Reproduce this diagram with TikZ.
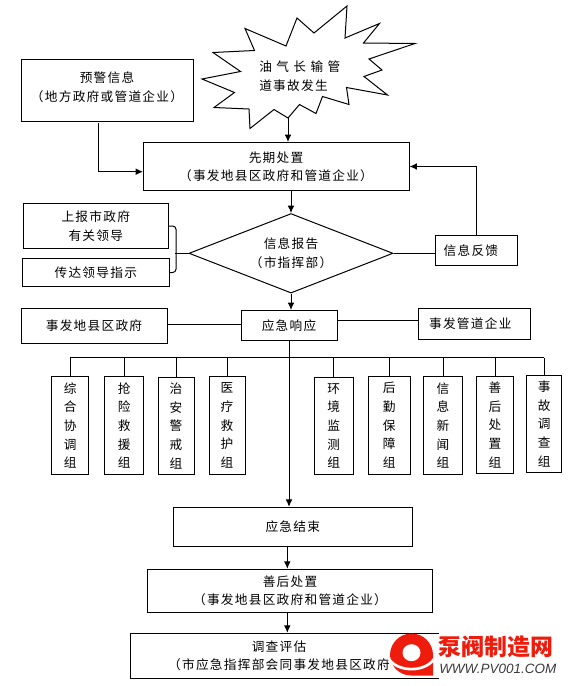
\documentclass[tikz,border=0pt]{standalone}
\usepackage{fontspec}
\setmainfont{Noto Sans CJK SC}[LetterSpace=10]
\newfontfamily\markfont{Noto Sans CJK SC}
\newfontfamily\webfont{Liberation Sans}
\usetikzlibrary{arrows.meta,calc,shapes.geometric}
\definecolor{markred}{HTML}{EE1C0C}
\definecolor{markgray}{HTML}{3A3A3A}
\tikzset{
  sized/.style 2 args={minimum width=#1*0.75pt, minimum height=#2*0.75pt, inner sep=0pt},
  planbox/.style={draw=black, line width=0.75pt, fill=white, align=center, font=\fontsize{9.5}{13.8}\selectfont},
  groupbox/.style={planbox, font=\fontsize{9.5}{14}\selectfont},
  decision/.style={planbox, diamond, aspect=2.5},
  flow/.style={black, -{Latex[length=5.5pt,width=5pt]}, line width=0.75pt},
  link/.style={black, line width=0.75pt},
  marktext/.style={inner sep=0pt, anchor=west}
}
\begin{document}
\begin{tikzpicture}[x=0.75pt, y=-0.75pt]
  \useasboundingbox (0,0) rectangle (573,686);
  \draw[link, fill=white] (245,28.5) -- (286,46) -- (297,18) -- (314,33) -- (347,6) -- (345,38) -- (379.5,23.5) -- (363.5,43) -- (415,43.5) -- (369,59) -- (382,70) -- (364,76.5) -- (387.5,95) -- (346.5,87.5) -- (349,104.5) -- (322.5,96.5) -- (316,113.5) -- (299.5,104.5) -- (288,118) -- (274,109.5) -- (250,128.5) -- (249,109) -- (214,107.5) -- (234.5,92.5) -- (202,79) -- (240.5,71.5) -- (213,52.5) -- (254.5,50.5) -- cycle;
  \coordinate (starout) at (288,118);
  \node[align=left, anchor=west, inner sep=0pt, font=\fontsize{9.5}{13.8}\selectfont] (accident) at (259,76)
    {\addfontfeature{LetterSpace=35}油气长输管\\道事故发生};
  \node[planbox, sized={172}{62}] (warn) at (107,90.5) {预警信息\\（地方政府或管道企业）\\[-8pt]\mbox{}};
  \node[planbox, sized={266}{48}] (first) at (276,166.5) {先期处置\\（事发地县区政府和管道企业）};
  \node[planbox, sized={144.5}{45}] (upward) at (95.75,226) {上报市政府\\有关领导};
  \node[planbox, sized={146.5}{28}] (relay) at (95.75,272.5) {传达领导指示};
  \node[decision, sized={204}{79.5}] (report) at (291,253.3) {信息报告\\（市指挥部）};
  \node[planbox, sized={81.5}{29.5}] (feedback) at (476.25,250.25) {信息反馈\hspace*{8pt}};
  \node[planbox, sized={96}{30}] (resp) at (289,325.5) {应急响应};
  \node[planbox, sized={146}{35}] (gov) at (94,326) {事发地县区政府};
  \node[planbox, sized={111.5}{31}] (corp) at (474.25,324) {事发管道企业\hspace*{6pt}};
  \node[groupbox, sized={37}{98}] (zonghe) at (70.2,425.4) {综\\合\\协\\调\\组};
  \node[groupbox, sized={38.8}{98}] (qiangxian) at (124.2,425.4) {抢\\险\\救\\援\\组};
  \node[groupbox, sized={36}{97}] (zhian) at (176,425.9) {治\\安\\警\\戒\\组};
  \node[groupbox, sized={36}{98}] (yiliao) at (227,425.4) {医\\疗\\救\\护\\组};
  \node[groupbox, sized={38.6}{97}] (huanjing) at (333.7,425.9) {环\\境\\监\\测\\组};
  \node[groupbox, sized={42.5}{98}] (houqin) at (389.25,425.4) {后\\勤\\保\\障\\组};
  \node[groupbox, sized={39}{98}] (xinxi) at (443,425.4) {信\\息\\新\\闻\\组};
  \node[groupbox, sized={37}{97}] (shanhou) at (495,425) {善\\后\\处\\置\\组};
  \node[groupbox, sized={34.7}{97}] (shigu) at (544.3,423.8) {事\\故\\调\\查\\组};
  \node[planbox, sized={239}{39}] (finish) at (292.8,526.8) {应急结束};
  \node[planbox, sized={285.4}{43}] (aftermath) at (290,590.8) {善后处置\\（事发地县区政府和管道企业）};
  \node[planbox, sized={320}{45}] (assess) at (290,655.8) {};
  \node[align=center, inner sep=0pt, font=\fontsize{9.5}{13.8}\selectfont] (assesstext) at (279,655.8) {调查评估\\（市应急指挥部会同事发地县区政府};
  \coordinate (warnout) at (98.5,123);
  \coordinate (firstin) at (143,171.7);
  \coordinate (brace) at (176,253.3);
  \coordinate (govline) at (241,324);
  \coordinate (corpline) at (337,320.7);
  \coordinate (busleft) at (69.5,357.5);
  \coordinate (busright) at (544.3,357.5);
  \draw[flow] (starout) -- (starout |- first.north);
  \draw[flow] (warnout) |- (firstin);
  \draw[flow] (first.south -| report.north) -- (report.north);
  \draw[flow] (feedback.north) |- (first.east);
  \draw[link] (report.east) -- (feedback.west |- report.east);
  \draw[link, rounded corners=2.5pt] (upward.east) -| (brace) |- (relay.east);
  \draw[link] (brace -| upward.east) ++(6,0) -- (report.west);
  \draw[flow] (report.south) -- (report.south |- resp.north);
  \draw[link] (govline -| gov.east) -- (govline);
  \draw[link] (corpline) -- (corpline -| corp.west);
  \draw[link] (busleft) -- (busright);
  \foreach \team in {zonghe,qiangxian,zhian,yiliao,huanjing,houqin,xinxi,shanhou,shigu}
    \draw[link] (\team.north) -- (\team.north |- busleft);
  \draw[flow] (resp.south) -- (resp.south |- finish.north);
  \draw[flow] (finish.south -| 287.3,0) -- (aftermath.north -| 287.3,0);
  \draw[flow] (aftermath.south -| 287.3,0) -- (assess.north -| 287.3,0);
  % site mark
  \fill[white] (439,625) rectangle (573,686);
  \fill[markred] (390,655) arc[start angle=180, end angle=360, radius=21.5] -- (433,675.5) -- (411,675.5) arc[start angle=90, end angle=180, radius=21] -- cycle;
  \fill[white] (411.5,652.7) ellipse[x radius=9, y radius=8.5];
  \draw[white, line width=2pt] (389,659) .. controls (398,672.5) and (425,672.5) .. (434,659);
  \node[marktext, text=markred, font=\markfont\bfseries\fontsize{17.2}{17.2}\selectfont] (marktitle) at (438.5,646.5) {泵阀制造网};
  \node[marktext, text=markgray, font=\webfont\itshape\fontsize{10.1}{10.1}\selectfont] (markurl) at (439,669) {WWW.PV001.COM};
\end{tikzpicture}
\end{document}
